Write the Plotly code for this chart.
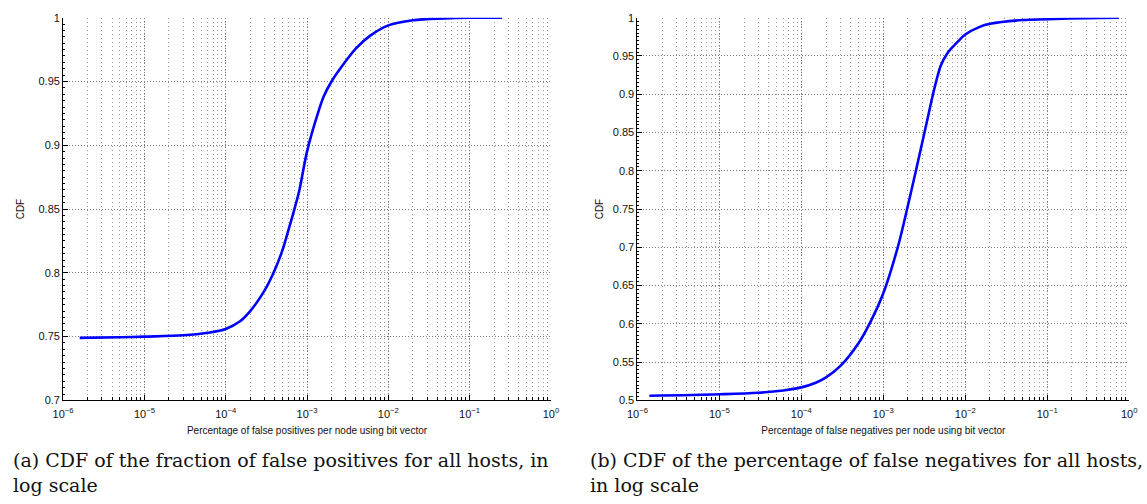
import plotly.graph_objects as go

# False positives per node (bit vector) -> empirical CDF
fp_x = [1.6e-6, 5e-6, 1e-5, 3e-5, 6e-5, 1e-4, 1.5e-4, 2e-4, 3e-4, 4e-4, 5e-4,
        6e-4, 7e-4, 8e-4, 1e-3, 1.3e-3, 1.6e-3, 2e-3, 3e-3, 4e-3, 6e-3,
        1e-2, 2e-2, 5e-2, 0.1, 0.25]
fp_cdf = [0.749, 0.7495, 0.750, 0.751, 0.753, 0.756, 0.762, 0.770, 0.786, 0.802, 0.818,
          0.835, 0.850, 0.864, 0.895, 0.921, 0.938, 0.950, 0.966, 0.976, 0.986,
          0.994, 0.998, 0.9995, 1.0, 1.0]

# False negatives per node (bit vector) -> empirical CDF
fn_x = [1.4e-6, 1e-5, 3e-5, 6e-5, 1e-4, 1.5e-4, 2e-4, 3e-4, 5e-4, 7e-4, 1e-3,
        1.5e-3, 2e-3, 2.5e-3, 3e-3, 3.5e-3, 4e-3, 4.5e-3, 5e-3, 6e-3, 8e-3,
        1e-2, 1.5e-2, 2e-2, 5e-2, 0.1, 0.3, 0.75]
fn_cdf = [0.506, 0.508, 0.510, 0.513, 0.517, 0.523, 0.530, 0.545, 0.575, 0.603, 0.640,
          0.700, 0.755, 0.800, 0.838, 0.870, 0.898, 0.920, 0.937, 0.953, 0.968,
          0.978, 0.988, 0.992, 0.997, 0.998, 0.9995, 1.0]

x_tickvals = [1e-6, 1e-5, 1e-4, 1e-3, 1e-2, 1e-1, 1]
x_ticktext = ["10<sup>−6</sup>", "10<sup>−5</sup>", "10<sup>−4</sup>", "10<sup>−3</sup>",
              "10<sup>−2</sup>", "10<sup>−1</sup>", "10<sup>0</sup>"]
fp_yticks = [0.7, 0.75, 0.8, 0.85, 0.9, 0.95, 1.0]
fp_ylabels = ["0.7", "0.75", "0.8", "0.85", "0.9", "0.95", "1"]
fn_yticks = [0.5, 0.55, 0.6, 0.65, 0.7, 0.75, 0.8, 0.85, 0.9, 0.95, 1.0]
fn_ylabels = ["0.5", "0.55", "0.6", "0.65", "0.7", "0.75", "0.8", "0.85", "0.9", "0.95", "1"]

x_titles = ["Percentage of false positives per node using bit vector",
            "Percentage of false negatives per node using bit vector"]
captions = ["(a) CDF of the fraction of false positives for all hosts, in<br>log scale",
            "(b) CDF of the percentage of false negatives for all hosts,<br>in log scale"]

W, H = 1147, 504
TICK_FONT = dict(family="Liberation Sans, Arial, sans-serif", size=11, color="#111")
TITLE_FONT = dict(family="Liberation Sans, Arial, sans-serif", size=10, color="#111")
GRID = "#7a7a7a"
MINOR_GRID = "#9a9a9a"

fig = go.Figure()
fig.add_trace(go.Scatter(x=fp_x, y=fp_cdf, mode="lines", line=dict(color="#0000ff", width=2.6),
                         line_shape="spline", xaxis="x", yaxis="y", showlegend=False))
fig.add_trace(go.Scatter(x=fn_x, y=fn_cdf, mode="lines", line=dict(color="#0000ff", width=2.6),
                         line_shape="spline", xaxis="x2", yaxis="y2", showlegend=False))


def xaxis_cfg(domain, anchor, title):
    return dict(
        type="log", domain=domain, anchor=anchor, range=[-6, 0],
        tickvals=x_tickvals, ticktext=x_ticktext, tickfont=TICK_FONT,
        ticklabelstandoff=3,
        showline=True, linecolor="black", linewidth=1, mirror=False,
        ticks="inside", ticklen=5, tickcolor="black",
        showgrid=True, gridcolor=GRID, griddash="1px,2px", gridwidth=1,
        minor=dict(dtick="D1", ticks="inside", ticklen=3, tickcolor="black",
                   showgrid=True, gridcolor=MINOR_GRID, griddash="1px,3px", gridwidth=1),
        zeroline=False,
        title=dict(text=title, font=TITLE_FONT, standoff=8),
    )


def yaxis_cfg(domain, anchor, rng, vals, labels, standoff):
    return dict(
        domain=domain, anchor=anchor, range=rng,
        tickvals=vals, ticktext=labels, tickfont=TICK_FONT,
        showline=True, linecolor="black", linewidth=1, mirror=False,
        ticks="inside", ticklen=5, tickcolor="black",
        showgrid=True, gridcolor=GRID, griddash="1px,2px", gridwidth=1,
        minor=dict(dtick=0.005, ticks="inside", ticklen=2, tickcolor="black", showgrid=False),
        zeroline=False,
        title=dict(text="CDF", font=TITLE_FONT, standoff=standoff),
    )


ydom = [100 / H, 492 / H]
fig.update_layout(
    width=W, height=H,
    margin=dict(l=0, r=0, t=0, b=0),
    paper_bgcolor="white", plot_bgcolor="white",
    xaxis=xaxis_cfg([53 / W, 549 / W], "y", x_titles[0]),
    yaxis=yaxis_cfg(ydom, "x", [0.7, 1.0], fp_yticks, fp_ylabels, 11),
    xaxis2=xaxis_cfg([637 / W, 1137 / W], "y2", x_titles[1]),
    yaxis2=yaxis_cfg(ydom, "x2", [0.5, 1.0], fn_yticks, fn_ylabels, 7),
)

CAP_FONT = dict(family="DejaVu Serif, serif", size=19, color="#111")
for cx, text in zip([0.0, 587 / W], captions):
    fig.add_annotation(x=cx, y=1 - 452 / H, xref="paper", yref="paper",
                       xanchor="left", yanchor="top", align="left",
                       text=text, showarrow=False, font=CAP_FONT)

fig.write_html("out.html")
